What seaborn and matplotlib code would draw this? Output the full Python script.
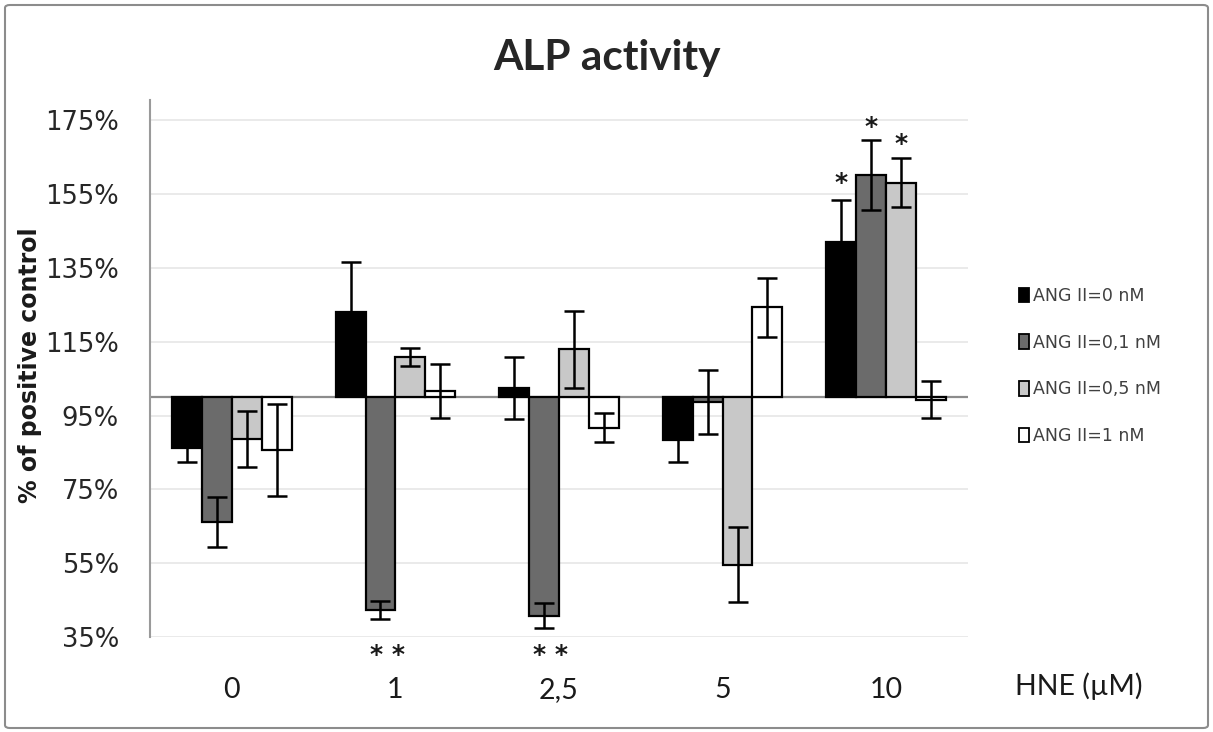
import numpy as np
import pandas as pd
import matplotlib
matplotlib.use("Agg")
import matplotlib.pyplot as plt
import seaborn as sns
from matplotlib.patches import Patch, FancyBboxPatch

# ── data (% of positive control) ──
categories = ["0", "1", "2,5", "5", "10"]
series = ["ANG II=0 nM", "ANG II=0,1 nM", "ANG II=0,5 nM", "ANG II=1 nM"]

ang_0   = [86.1, 123.0, 102.6, 88.3, 142.0]
ang_01  = [66.1, 42.3, 40.8, 98.7, 160.2]
ang_05  = [88.6, 110.8, 112.9, 54.6, 158.1]
ang_1   = [85.6, 101.7, 91.7, 124.4, 99.3]

err_0   = [3.7, 13.6, 8.4, 5.9, 11.4]
err_01  = [6.8, 2.4, 3.4, 8.7, 9.5]
err_05  = [7.5, 2.4, 10.4, 10.1, 6.7]
err_1   = [12.5, 7.3, 4.0, 8.0, 5.0]

# significance marks: category index, series index, y position, text
star_cat    = [1, 2, 4, 4, 4]
star_series = [1, 1, 0, 1, 2]
star_y      = [30.0, 30.0, 158.0, 173.2, 168.6]
star_text   = ["* *", "* *", "*", "*", "*"]

BASE = 100
colors = ["#000000", "#6b6b6b", "#c8c8c8", "#ffffff"]

values = [ang_0, ang_01, ang_05, ang_1]
errors = [err_0, err_01, err_05, err_1]

rows = []
for s, vals, errs in zip(series, values, errors):
    for c, v, e in zip(categories, vals, errs):
        rows.append({"HNE": c, "ANG": s, "value": v, "delta": v - BASE, "err": e})
df = pd.DataFrame(rows)

sns.set_style("white")
plt.rcParams["font.family"] = ["DejaVu Sans"]

fig = plt.figure(figsize=(12.13, 7.32), dpi=100)
ax = fig.add_axes([150 / 1213, 1 - 637 / 732, (968 - 150) / 1213, (637 - 100) / 732])

sns.barplot(
    data=df, x="HNE", y="delta", hue="ANG",
    order=categories, hue_order=series,
    palette=colors, width=0.73, errorbar=None,
    bottom=BASE, edgecolor="black", linewidth=1.6,
    legend=False, ax=ax, zorder=3,
)

# error bars at the bar centres (patches come hue by hue)
centers = np.array([p.get_x() + p.get_width() / 2 for p in ax.patches])
centers = centers.reshape(len(series), len(categories))
for i in range(len(series)):
    ax.errorbar(centers[i], values[i], yerr=errors[i], fmt="none",
                ecolor="black", elinewidth=1.8, capsize=7, capthick=1.8,
                zorder=4)

for ci, si, y, t in zip(star_cat, star_series, star_y, star_text):
    x = centers[si][ci] + (0.04 if len(t) > 1 else 0)
    ax.text(x, y, t, ha="center", va="center", fontsize=18,
            fontweight="bold", color="#1a1a1a", clip_on=False, zorder=5)

ax.set_ylim(35, 180.5)
ax.set_xlim(-0.5, 4.5)
yt = np.arange(35, 176, 20)
ax.set_yticks(yt)
ax.set_yticklabels([f"{v}%" for v in yt], fontsize=18.5, color="#262626")
ax.yaxis.grid(True, color="#e8e8e8", linewidth=1.3, zorder=0)
ax.set_axisbelow(True)
ax.axhline(BASE, color="#8c8c8c", linewidth=1.6, zorder=2)

ax.set_xticks(range(len(categories)))
ax.set_xticklabels(categories, fontsize=20.5, family="Lato", color="#1a1a1a")
ax.tick_params(axis="x", length=0, pad=29)
ax.tick_params(axis="y", length=9.5, width=1.3, color="#9a9a9a", pad=13, direction="out")
ax.set_xlabel("")
ax.set_ylabel("")

for side in ["top", "right", "bottom"]:
    ax.spines[side].set_visible(False)
ax.spines["left"].set_color("#9a9a9a")
ax.spines["left"].set_linewidth(1.5)

fig.text(0.5, 1 - 58 / 732, "ALP activity", ha="center", va="center",
         fontsize=30.5, fontweight="bold", family="Lato")
fig.text(30 / 1213, 1 - 365 / 732, "% of positive control", rotation=90,
         ha="center", va="center", fontsize=17, fontweight="bold", color="#1a1a1a")
fig.text(1079 / 1213, 1 - 686 / 732, "HNE (µM)", ha="center", va="center",
         fontsize=20.5, family="Lato", color="#1a1a1a")

handles = [Patch(facecolor=c, edgecolor="black", linewidth=1.3) for c in colors]
fig.legend(handles, series, loc="center left",
           bbox_to_anchor=(1019 / 1213, 1 - 366 / 732),
           frameon=False, fontsize=12.5, labelcolor="#404040",
           handlelength=0.6, handleheight=0.9, handletextpad=0.2,
           labelspacing=1.65, borderpad=0, borderaxespad=0)

border = FancyBboxPatch((5 / 1213, 4 / 732), 1203 / 1213, 723 / 732,
                        boxstyle="round,pad=0,rounding_size=0.004",
                        transform=fig.transFigure, facecolor="none",
                        edgecolor="#8c8c8c", linewidth=1.5)
fig.patches.append(border)

fig.savefig("out.png", dpi=100)
